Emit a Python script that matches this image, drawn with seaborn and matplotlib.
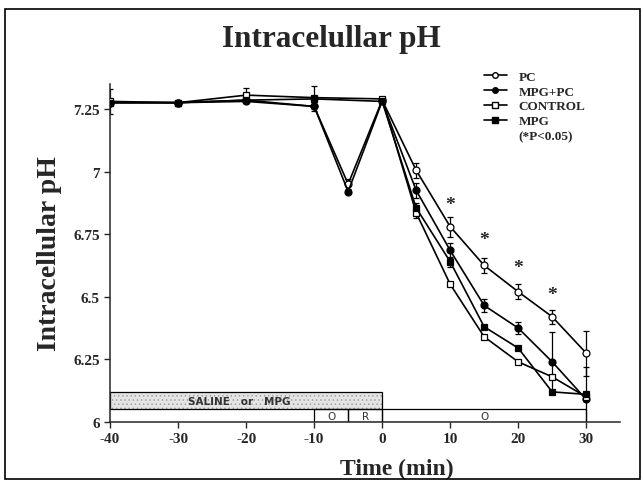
import numpy as np
import pandas as pd
import matplotlib
matplotlib.use('Agg')
import matplotlib.pyplot as plt
import matplotlib.patches as mpatches
from matplotlib.lines import Line2D
import seaborn as sns

# time points (min)
aTime = [-40, -30, -20, -10, -5, 0, 5, 10, 15, 20, 25, 30]

# mean intracellular pH per group (nan = no measurement)
aPC = [7.275, 7.275, 7.285, 7.26, 6.95, 7.285, 7.005, 6.78, 6.625, 6.52, 6.42, 6.275]
aMPG_PC = [7.275, 7.275, 7.28, 7.26, 6.92, 7.28, 6.925, 6.685, 6.465, 6.375, 6.24, 6.09]
aCONTROL = [7.28, 7.275, 7.305, 7.295, np.nan, 7.29, 6.835, 6.55, 6.34, 6.24, 6.18, 6.10]
aMPG = [7.275, 7.275, 7.285, 7.29, np.nan, 7.28, 6.855, 6.64, 6.38, 6.295, 6.12, 6.11]

# error bars (sem)
aPC_err = [0.0, 0.0, 0.0, 0.0, 0.02, 0.0, 0.03, 0.04, 0.03, 0.03, 0.027, 0.09]
aMPG_PC_err = [0.0, 0.0, 0.0, 0.0, 0.0, 0.0, 0.03, 0.03, 0.025, 0.025, 0.12, 0.0]
aCONTROL_err = [0.05, 0.0, 0.03, 0.0, 0.0, 0.0, 0.02, 0.0, 0.0, 0.0, 0.0, 0.12]
aMPG_err = [0.0, 0.0, 0.0, 0.05, 0.0, 0.0, 0.02, 0.02, 0.0, 0.0, 0.0, 0.0]

# significance stars
aStar_time = [10, 15, 20, 25]
aStar_y = [6.87, 6.73, 6.615, 6.51]

# protocol bar
sSaline_text = 'SALINE   or   MPG'
aPhase_start = [-10, -5, 0]
aPhase_end = [-5, 0, 30]
aPhase_label = ['O', 'R', 'O']

sns.set_style('ticks')
plt.rcParams['font.family'] = ['Liberation Serif', 'DejaVu Serif']
plt.rcParams['font.weight'] = 'bold'
plt.rcParams['hatch.linewidth'] = 0.5

fig = plt.figure(figsize=(6.44, 4.85), dpi=100)
ax = fig.add_axes([0.171, 0.128, 0.792, 0.697])

aSeries = [
    ('PC', aPC, aPC_err, 'o', 'white'),
    ('MPG+PC', aMPG_PC, aMPG_PC_err, 'o', 'black'),
    ('CONTROL', aCONTROL, aCONTROL_err, 's', 'white'),
    ('MPG', aMPG, aMPG_err, 's', 'black'),
]

for sName, aVal, aErr, sMarker, sFace in aSeries:
    df = pd.DataFrame({'t': aTime, 'ph': aVal, 'err': aErr}).dropna()
    dfe = df[df['err'] > 0]
    ax.errorbar(dfe['t'], dfe['ph'], yerr=dfe['err'], fmt='none', ecolor='black',
                elinewidth=0.9, capsize=2.5, capthick=0.9, zorder=2)
    sns.lineplot(data=df, x='t', y='ph', ax=ax, color='black', linewidth=1.2,
                 marker=sMarker, markersize=5, markerfacecolor=sFace,
                 markeredgecolor='black', markeredgewidth=0.9, zorder=3)

for t, y in zip(aStar_time, aStar_y):
    ax.text(t, y, '*', ha='center', va='center', fontsize=14, fontweight='bold')

# protocol boxes
ax.add_patch(mpatches.Rectangle((-40, 6.052), 40, 0.067, facecolor='#e4e4e4',
                                edgecolor='#9a9a9a', hatch='....', linewidth=0, zorder=1))
ax.add_patch(mpatches.Rectangle((-40, 6.052), 40, 0.067, facecolor='none',
                                edgecolor='black', linewidth=0.9, zorder=1))
ax.text(-21, 6.084, sSaline_text, ha='center', va='center', fontsize=7.5,
        family='DejaVu Sans', fontweight='bold', color='#333333', zorder=4)
for x0, x1, sLab in zip(aPhase_start, aPhase_end, aPhase_label):
    ax.add_patch(mpatches.Rectangle((x0, 6.0), x1 - x0, 0.052, facecolor='none',
                                    edgecolor='black', linewidth=0.9, zorder=1))
    ax.text((x0 + x1) / 2, 6.025, sLab, ha='center', va='center', fontsize=7.5,
            family='DejaVu Sans', fontweight='normal', color='#333333')

ax.set_xlim(-40, 35)
ax.set_ylim(6, 7.35)
ax.set_xticks([-40, -30, -20, -10, 0, 10, 20, 30])
ax.set_xticklabels(['-40', '-30', '-20', '-10', '0', '10', '20', '30'])
ax.set_yticks([6, 6.25, 6.5, 6.75, 7, 7.25])
ax.set_yticklabels(['6', '6.25', '6.5', '6.75', '7', '7.25'])
ax.tick_params(labelsize=11, length=4, width=1)
sns.despine(ax=ax)
for s in ['left', 'bottom']:
    ax.spines[s].set_linewidth(1.1)

ax.set_xlabel('Time (min)', fontsize=17, fontweight='bold')
ax.xaxis.set_label_coords(0.563, -0.105)
ax.set_ylabel('Intracellular pH', fontsize=20, fontweight='bold', labelpad=8)
fig.text(0.515, 0.918, 'Intracelullar pH', ha='center', va='center',
         fontsize=22.5, fontweight='bold')

# legend
aHandles = [Line2D([0], [0], color='black', linewidth=1.2, marker=m, markersize=4,
                   markerfacecolor=f, markeredgecolor='black') for _, _, _, m, f in aSeries]
aHandles.append(Line2D([0], [0], color='none'))
aLabels = [s[0] for s in aSeries] + ['(*P<0.05)']
leg = ax.legend(aHandles, aLabels, loc='upper left', bbox_to_anchor=(0.71, 1.075),
                frameon=False, handlelength=1.7, labelspacing=0.2,
                handletextpad=0.9, prop={'weight': 'bold', 'size': 9.5})

# outer frame
fig.patches.append(mpatches.Rectangle((0.008, 0.01), 0.986, 0.97, transform=fig.transFigure,
                                      fill=False, edgecolor='black', linewidth=1.2))

fig.savefig('out.png', dpi=100)
